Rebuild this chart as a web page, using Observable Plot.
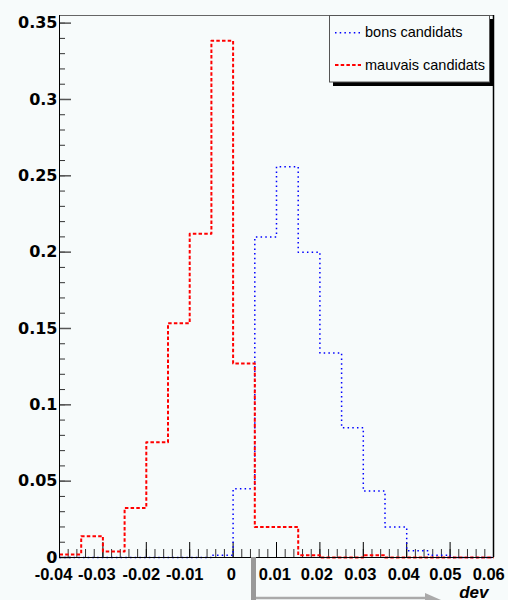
<!DOCTYPE html>
<html><head><meta charset="utf-8">
<script src="https://cdn.jsdelivr.net/npm/d3@7"></script>
<script src="https://cdn.jsdelivr.net/npm/@observablehq/plot@0.6"></script>
<style>
html,body{margin:0;padding:0;background:#f7fbfb;}
#wrap{position:relative;width:508px;height:600px;overflow:hidden;}
#legend{position:absolute;left:329px;top:15px;}
</style></head>
<body><div id="wrap"></div>
<script>
const binEdges = [-0.04,-0.035,-0.03,-0.025,-0.02,-0.015,-0.01,-0.005,0,0.005,0.01,0.015,0.02,0.025,0.03,0.035,0.04,0.045,0.05,0.055,0.06];
const bonsValues = [0,0,0,0,0,0,0,0.0015,0.045,0.210,0.256,0.200,0.134,0.085,0.0435,0.020,0.0045,0.0015,0,0];
const mauvaisValues = [0.002,0.014,0.004,0.0325,0.0755,0.1535,0.212,0.3385,0.127,0.020,0.020,0.0015,0,0,0.0015,0,0,0,0,0];
const seriesNames = ["bons candidats","mauvais candidats"];
const xMajorTicks = [-0.04,-0.03,-0.02,-0.01,0,0.01,0.02,0.03,0.04,0.05,0.06];
const xTickLabels = ["-0.04","-0.03","-0.02","-0.01","0","0.01","0.02","0.03","0.04","0.05","0.06"];
const yMajorTicks = [0,0.05,0.1,0.15,0.2,0.25,0.3,0.35];
const yTickLabels = ["0","0.05","0.1","0.15","0.2","0.25","0.3","0.35"];
const xTitle = "dev";

const xMinorTicks = d3.range(0, 51).map(i => -0.04 + i * 0.002);
const yMinorTicks = d3.range(0, 36).map(i => i * 0.01);

function steps(values) {
  const pts = [];
  values.forEach((v, i) => { pts.push({x: binEdges[i], y: v}); pts.push({x: binEdges[i + 1], y: v}); });
  return pts;
}

const W = 508, H = 600, mL = 59, mR = 15, mT = 15, mB = 43;
const pw = W - mL - mR, ph = H - mT - mB;

const xLabelStyle = {frameAnchor: "bottom", lineAnchor: "top", dy: 11, fontFamily: "Liberation Sans", fontWeight: "bold", fontSize: 16.5, fill: "#000"};
const xLabel = (filter, dx) => Plot.text(xMajorTicks, {x: d => d, text: (d, i) => xTickLabels[i], filter, dx, ...xLabelStyle});

const plot = Plot.plot({
  width: W, height: H,
  marginLeft: mL, marginRight: mR, marginTop: mT, marginBottom: mB,
  x: {domain: [-0.04, 0.06], axis: null},
  y: {domain: [0, 0.355], axis: null},
  style: {background: "transparent", overflow: "visible"},
  marks: [
    Plot.frame({stroke: "#666"}),
    Plot.tickX(xMinorTicks, {x: d => d, insetTop: ph - 8, stroke: "#333"}),
    Plot.tickX(xMajorTicks, {x: d => d, insetTop: ph - 15, stroke: "#000"}),
    Plot.tickY(yMinorTicks, {y: d => d, insetRight: pw - 6, stroke: "#333"}),
    Plot.tickY(yMajorTicks, {y: d => d, insetRight: pw - 12, stroke: "#555", strokeWidth: 1.5}),
    Plot.line(steps(bonsValues), {x: "x", y: "y", stroke: "#0000ff", strokeWidth: 1.5, strokeDasharray: "1.5,3.2", strokeLinecap: "butt", curve: "linear"}),
    Plot.line(steps(mauvaisValues), {x: "x", y: "y", stroke: "#ff0000", strokeWidth: 2, strokeDasharray: "3.5,2.2", strokeLinecap: "butt", curve: "linear"}),
    Plot.ruleX([-0.04], {stroke: "#000"}),
    Plot.ruleX([0.06], {stroke: "#000", strokeWidth: 1.5}),
    Plot.ruleY([0], {stroke: "#000"}),
    xLabel(d => d < -0.025, -6),
    xLabel(d => d > -0.025 && d < -0.005, -5),
    xLabel(d => d > -0.005 && d < 0.015, -1.7),
    xLabel(d => d > 0.015 && d < 0.045, -3),
    xLabel(d => d > 0.045, -4.8),
    Plot.text(yMajorTicks, {y: d => d, text: (d, i) => yTickLabels[i], frameAnchor: "left", textAnchor: "end", dx: -2, fontFamily: "DejaVu Sans", fontWeight: "bold", fontSize: 16, fill: "#000"}),
    Plot.text([xTitle], {text: d => d, frameAnchor: "bottom-right", textAnchor: "end", lineAnchor: "bottom", dy: 40, dx: -5, fontFamily: "Liberation Sans", fontWeight: "bold", fontStyle: "italic", fontSize: 17, fill: "#000"})
  ]
});

const svg = d3.select(plot);
// grey arrow decoration at the bottom
svg.append("rect").attr("x", 251).attr("y", 557).attr("width", 5).attr("height", 43).attr("fill", "#999");
svg.append("line").attr("x1", 256).attr("y1", 598).attr("x2", 426).attr("y2", 598).attr("stroke", "#aaa").attr("stroke-width", 2.5);
svg.append("path").attr("d", "M425,593L441,600L425,600Z").attr("fill", "#aaa");

document.getElementById("wrap").appendChild(plot);

// legend
const lg = d3.select("#wrap").append("svg").attr("id", "legend").attr("width", 165).attr("height", 72);
lg.append("rect").attr("x", 4).attr("y", 4).attr("width", 160).attr("height", 67).attr("fill", "#000");
lg.append("rect").attr("x", 0.5).attr("y", 0.5).attr("width", 160).attr("height", 66.5).attr("fill", "#f7fbfb").attr("stroke", "#555");
const legendStyles = [
  {stroke: "#0000ff", w: 1.5, dash: "1.5,3.2", y: 17.7, ty: 21.7},
  {stroke: "#ff0000", w: 2, dash: "3.5,2.2", y: 50, ty: 55}
];
seriesNames.forEach((name, i) => {
  const s = legendStyles[i];
  lg.append("line").attr("x1", 6).attr("x2", 32).attr("y1", s.y).attr("y2", s.y)
    .attr("stroke", s.stroke).attr("stroke-width", s.w).attr("stroke-dasharray", s.dash);
  lg.append("text").attr("x", 36).attr("y", s.ty).text(name)
    .attr("font-family", "Liberation Sans").attr("font-size", 14.5).attr("fill", "#000");
});
</script>
</body></html>
